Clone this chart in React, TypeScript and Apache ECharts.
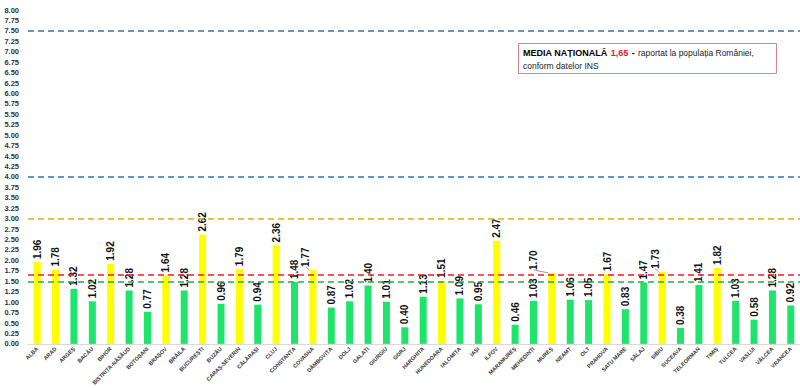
import React, { useEffect, useRef } from "react";
import * as echarts from "echarts";

const counties = [
  "ALBA", "ARAD", "ARGEȘ", "BACĂU", "BIHOR", "BISTRIȚA-NĂSĂUD", "BOTOȘANI", "BRAȘOV", "BRĂILA", "BUCUREȘTI",
  "BUZĂU", "CARAȘ-SEVERIN", "CĂLĂRAȘI", "CLUJ", "CONSTANȚA", "COVASNA", "DÂMBOVIȚA", "DOLJ", "GALAȚI", "GIURGIU",
  "GORJ", "HARGHITA", "HUNEDOARA", "IALOMIȚA", "IAȘI", "ILFOV", "MARAMUREȘ", "MEHEDINȚI", "MUREȘ", "NEAMȚ",
  "OLT", "PRAHOVA", "SATU MARE", "SĂLAJ", "SIBIU", "SUCEAVA", "TELEORMAN", "TIMIȘ", "TULCEA", "VASLUI",
  "VÂLCEA", "VRANCEA",
];

const rates = [
  1.96, 1.78, 1.32, 1.02, 1.92, 1.28, 0.77, 1.64, 1.28, 2.62,
  0.96, 1.79, 0.94, 2.36, 1.48, 1.77, 0.87, 1.02, 1.40, 1.01,
  0.40, 1.13, 1.51, 1.09, 0.95, 2.47, 0.46, 1.03, 1.70, 1.06,
  1.05, 1.67, 0.83, 1.47, 1.73, 0.38, 1.41, 1.82, 1.03, 0.58,
  1.28, 0.92,
];

const thresholdLines = [7.5, 4.0, 3.0];
const nationalAverage = 1.65;
const greenThreshold = 1.5;

// labels moved up with a leader line: [index, dy]
const raisedLabels: [number, number][] = [
  [15, -7],
  [28, -18],
  [34, -7],
];

export default function App() {
  const ref = useRef<HTMLDivElement>(null);

  useEffect(() => {
    if (!ref.current) return;
    const chart = echarts.init(ref.current, undefined, { renderer: "svg" });
    const raisedMap = new Map(raisedLabels);

    const dashed = (color: string) => ({
      color,
      type: [6, 4] as any,
      width: 1.6,
    });

    const option: any = {
      animation: false,
      backgroundColor: "#ffffff",
      textStyle: { fontFamily: "Liberation Sans" },
      grid: { left: 28, right: -2, top: 10, bottom: 44, containLabel: false },
      xAxis: {
        type: "category",
        data: counties,
        axisLine: { lineStyle: { color: "#d9d9d9" } },
        axisTick: { show: false },
        axisLabel: {
          interval: 0,
          rotate: 45,
          fontSize: 5.5,
          fontWeight: "bold",
          color: "#333",
          margin: 4,
        },
      },
      yAxis: {
        type: "value",
        min: 0,
        max: 8,
        interval: 0.25,
        axisLine: { show: false },
        axisTick: { show: false },
        splitLine: { show: false },
        axisLabel: {
          fontSize: 7.5,
          fontWeight: "bold",
          color: "#333",
          margin: 9,
          formatter: (v: number) => v.toFixed(2),
        },
      },
      series: [
        {
          type: "bar",
          barWidth: 7,
          data: rates.map((v, i) =>
            raisedMap.has(i)
              ? { value: v, labelLine: { show: true, lineStyle: { color: "#999", width: 1 } } }
              : v
          ),
          itemStyle: {
            color: (p: any) => (p.value > greenThreshold ? "#ffff00" : "#1ee46c"),
          },
          label: {
            show: true,
            position: "top",
            rotate: 90,
            align: "left",
            verticalAlign: "middle",
            distance: 3,
            fontSize: 10,
            fontWeight: "bold",
            color: "#111",
            formatter: (p: any) => Number(p.value).toFixed(2),
          },
          labelLayout: (p: any) => {
            const dy = raisedMap.get(p.dataIndex);
            return dy ? { dy } : {};
          },
          markLine: {
            silent: true,
            symbol: ["none", "none"],
            label: { show: false },
            data: [
              { yAxis: thresholdLines[0], lineStyle: dashed("#2e75b6") },
              { yAxis: thresholdLines[1], lineStyle: dashed("#2e75b6") },
              { yAxis: thresholdLines[2], lineStyle: dashed("#e0b000") },
              { yAxis: nationalAverage, lineStyle: dashed("#ee1c24") },
              { yAxis: greenThreshold, lineStyle: dashed("#2ea84a") },
            ],
          },
          z: 2,
        },
      ],
      graphic: [
        {
          type: "rect",
          left: 518,
          top: 43,
          shape: { width: 258, height: 30 },
          style: { fill: "#ffffff", stroke: "#d9848c", lineWidth: 1 },
          z: 10,
        },
        {
          type: "text",
          left: 523,
          top: 46,
          z: 11,
          style: {
            text: "{b|MEDIA NAȚIONALĂ} {r|1,65} {b|-} {n|raportat la populația României,}\n{n|conform datelor INS}",
            lineHeight: 13,
            rich: {
              b: { fontSize: 9, fontWeight: "bold", fill: "#000", fontFamily: "Liberation Sans", lineHeight: 13 },
              r: { fontSize: 9, fontWeight: "bold", fill: "#e0202a", fontFamily: "Liberation Sans", lineHeight: 13 },
              n: { fontSize: 8.5, fill: "#222", fontFamily: "Liberation Sans", lineHeight: 13 },
            },
          },
        },
      ],
    };

    chart.setOption(option);
    return () => chart.dispose();
  }, []);

  return (
    <div
      ref={ref}
      style={{ position: "absolute", left: 0, top: 0, width: 800, height: 388 }}
    />
  );
}
